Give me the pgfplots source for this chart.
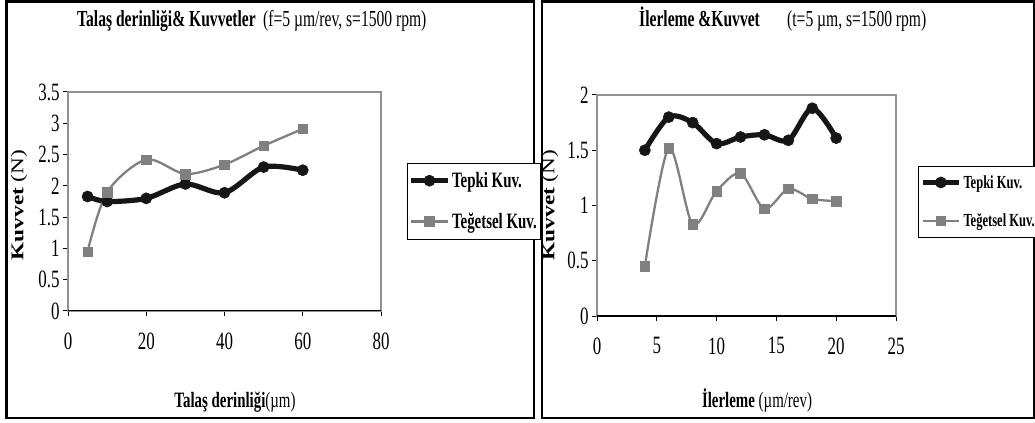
\documentclass[border=0pt]{standalone}
\usepackage{fontspec}
\setmainfont{Liberation Serif}[FakeStretch=0.68]
\newfontfamily\vlabfont{Liberation Serif}[FakeStretch=1.3]
\usepackage{pgfplots}
\pgfplotsset{compat=1.18}

\definecolor{tepki}{RGB}{22,22,22}
\definecolor{teget}{RGB}{128,128,128}
\definecolor{frame}{RGB}{145,145,145}

\pgfplotsset{
  kuvvet/.style={
    scale only axis,
    anchor=south west,
    axis line style={draw=frame, line width=2.4bp},
    tick style={black, line width=1bp},
    tick align=outside,
    major tick length=5bp,
    xtick pos=bottom, ytick pos=left,
    /pgf/number format/assume math mode=true,
    ticklabel style={font=\fontsize{25}{27}\selectfont},
    xticklabel style={yshift=-13bp},
    yticklabel style={/pgf/number format/.cd, fixed, precision=1},
    legend style={draw=black, line width=0.8bp, fill=white,
      inner xsep=1.5bp, inner ysep=7bp, row sep=20bp,
      cells={anchor=west, inner xsep=0.5bp}},
    legend image code/.code={
      \draw[mark repeat=2, mark phase=2, #1]
        plot coordinates {(0bp,0bp) (18bp,0bp) (36bp,0bp)};
    },
  },
  tepki/.style={color=tepki, line width=5.2bp, smooth, mark=*,
    mark size=5.6bp, mark options={solid, fill=tepki, line width=0.5bp}},
  teget/.style={color=teget, line width=2.3bp, smooth, mark=square*,
    mark size=4.8bp, mark options={solid, fill=teget, line width=0.5bp}},
}

\begin{document}
\begin{tikzpicture}
\path[use as bounding box] (0bp,0bp) rectangle (1035bp,423bp);

% panel frames
\draw[line width=2.5bp] (6.5bp,5bp) rectangle (534bp,421.5bp);
\draw[line width=2.5bp] (542bp,5bp) rectangle (1034bp,421.5bp);

% ---- left panel: chip depth vs forces
\node[anchor=base west, inner sep=0] at (77bp,396bp)
  {\fontsize{23}{25}\selectfont\bfseries Talaş derinliği\& Kuvvetler};
\node[anchor=base west, inner sep=0] at (263bp,396bp)
  {\fontsize{23}{25}\selectfont (f=5 µm/rev, s=1500 rpm)};

\begin{axis}[kuvvet,
  at={(68bp,112bp)}, width=313bp, height=219bp,
  xmin=0, xmax=80, ymin=0, ymax=3.5,
  xtick={0,20,40,60,80}, ytick={0,0.5,1,1.5,2,2.5,3,3.5},
  legend style={at={(rel axis cs:1.083,0.676)}, anchor=north west,
    font=\bfseries\fontsize{22}{24}\selectfont},
]
\addplot[tepki] coordinates {(5,1.83) (10,1.75) (20,1.80) (30,2.03) (40,1.89) (50,2.30) (60,2.25)};
\addplot[teget] coordinates {(5,0.95) (10,1.90) (20,2.42) (30,2.19) (40,2.34) (50,2.64) (60,2.91)};
\legend{Tepki Kuv., Teğetsel Kuv.}
\draw[black, line width=2bp] (rel axis cs:0,0) -- (rel axis cs:1,0);
\end{axis}

\node[rotate=90, inner sep=0] at (19bp,218bp)
  {\vlabfont\fontsize{18}{20}\selectfont\textbf{Kuvvet} (N)};
\node[anchor=base, inner sep=0] at (235bp,16bp)
  {\fontsize{22}{24}\selectfont\textbf{Talaş derinliği}(µm)};

% ---- right panel: feed vs forces
\node[anchor=base west, inner sep=0] at (639bp,396bp)
  {\fontsize{23}{25}\selectfont\bfseries İlerleme \&Kuvvet};
\node[anchor=base west, inner sep=0] at (787bp,396bp)
  {\fontsize{23}{25}\selectfont (t=5 µm, s=1500 rpm)};

\begin{axis}[kuvvet,
  at={(597bp,107bp)}, width=299bp, height=221bp,
  xmin=0, xmax=25, ymin=0, ymax=2,
  xtick={0,5,10,15,20,25}, ytick={0,0.5,1,1.5,2},
  legend style={at={(rel axis cs:1.075,0.679)}, anchor=north west,
    font=\bfseries\fontsize{18.5}{21}\selectfont},
]
\addplot[tepki] coordinates {(4,1.50) (6,1.80) (8,1.75) (10,1.56) (12,1.62) (14,1.64) (16,1.59) (18,1.88) (20,1.61)};
\addplot[teget] coordinates {(4,0.45) (6,1.52) (8,0.83) (10,1.13) (12,1.29) (14,0.97) (16,1.15) (18,1.06) (20,1.04)};
\legend{Tepki Kuv., Teğetsel Kuv.}
\draw[black, line width=2bp] (rel axis cs:0,0) -- (rel axis cs:1,0);
\end{axis}

\node[rotate=90, inner sep=0] at (550bp,218bp)
  {\vlabfont\fontsize{18}{20}\selectfont\textbf{Kuvvet} (N)};
\node[anchor=base, inner sep=0] at (757bp,16bp)
  {\fontsize{22}{24}\selectfont\textbf{İlerleme} (µm/rev)};
\end{tikzpicture}
\end{document}
